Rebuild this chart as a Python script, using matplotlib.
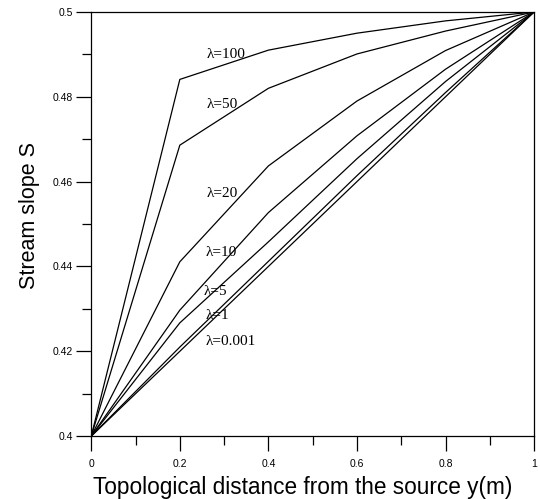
import matplotlib.pyplot as plt
from matplotlib.ticker import MultipleLocator

# distance along the stream and slope for each lambda
distance = [0.0, 0.2, 0.4, 0.6, 0.8, 1.0]
lambdas = ['100', '50', '20', '10', '5', '1', '0.001']
slope_100 = [0.4, 0.4841, 0.4910, 0.4950, 0.4979, 0.5]
slope_50 = [0.4, 0.4686, 0.4820, 0.4901, 0.4955, 0.5]
slope_20 = [0.4, 0.4411, 0.4637, 0.4790, 0.4909, 0.5]
slope_10 = [0.4, 0.4297, 0.4527, 0.4708, 0.4865, 0.5]
slope_5 = [0.4, 0.4267, 0.4458, 0.4654, 0.4836, 0.5]
slope_1 = [0.4, 0.4210, 0.4412, 0.4614, 0.4810, 0.5]
slope_0001 = [0.4, 0.4200, 0.4400, 0.4600, 0.4800, 0.5]
slopes = [slope_100, slope_50, slope_20, slope_10, slope_5, slope_1, slope_0001]

# where each lambda label sits (left edge x, centre y)
label_x = [0.261, 0.261, 0.261, 0.259, 0.253, 0.259, 0.259]
label_y = [0.4899, 0.4781, 0.4573, 0.4432, 0.4342, 0.4285, 0.4222]

fig = plt.figure(figsize=(5.4, 4.99), dpi=100)
ax = fig.add_axes([0.169, 0.126, 0.820, 0.850])

for s in slopes:
    ax.plot(distance, s, color='black', linewidth=0.9)

for name, lx, ly in zip(lambdas, label_x, label_y):
    ax.text(lx, ly, '\u03bb=' + name, family='Liberation Serif', fontsize=11,
            ha='left', va='center')

ax.set_xlim(0, 1)
ax.set_ylim(0.4, 0.5)
ax.xaxis.set_major_locator(MultipleLocator(0.2))
ax.xaxis.set_minor_locator(MultipleLocator(0.1))
ax.yaxis.set_major_locator(MultipleLocator(0.02))
ax.yaxis.set_minor_locator(MultipleLocator(0.01))
ax.set_xticks([0, 0.2, 0.4, 0.6, 0.8, 1.0])
ax.set_xticklabels(['0', '0.2', '0.4', '0.6', '0.8', '1'])
ax.set_yticks([0.4, 0.42, 0.44, 0.46, 0.48, 0.5])
ax.set_yticklabels(['0.4', '0.42', '0.44', '0.46', '0.48', '0.5'])

ax.tick_params(which='major', direction='out', length=10.5, width=0.9,
               labelsize=7.5, pad=3)
ax.tick_params(which='minor', direction='out', length=6.5, width=0.9)
ax.tick_params(axis='x', which='major', pad=6)
for lab in ax.get_xticklabels() + ax.get_yticklabels():
    lab.set_family('Liberation Sans')
for sp in ax.spines.values():
    sp.set_linewidth(0.9)

ax.set_xlabel('Topological distance from the source y(m)', family='Liberation Sans',
              fontsize=16.3)
ax.xaxis.set_label_coords(0.478, -0.095)
ax.set_ylabel('Stream slope S', family='Liberation Sans', fontsize=15.5)
ax.yaxis.set_label_coords(-0.115, 0.52)

fig.savefig('out.png', dpi=100)
